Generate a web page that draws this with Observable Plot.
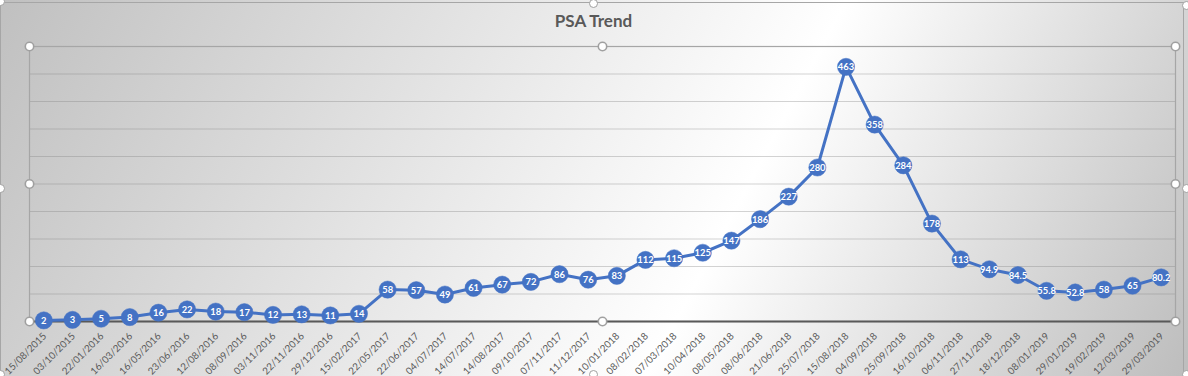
<!DOCTYPE html>
<html>
<head>
<meta charset="utf-8">
<script src="https://cdn.jsdelivr.net/npm/d3@7"></script>
<script src="https://cdn.jsdelivr.net/npm/@observablehq/plot@0.6"></script>
<style>
  html, body { margin: 0; padding: 0; background: #ffffff; }
  #wrap { position: relative; width: 1188px; height: 376px; overflow: hidden; background: linear-gradient(118deg, #c0c0c0 0%, #ffffff 61%, #bdbdbd 100%); }
  #wrap svg { display: block; }
  .outer { position: absolute; left: 0; top: 2px; width: 1184px; height: 380px; border: 1px solid #a6a6a6; box-sizing: border-box; pointer-events: none; }
  .h { position: absolute; width: 9px; height: 9px; border-radius: 50%; background: #fff; border: 1.5px solid #a0a0a0; box-sizing: border-box; }
</style>
</head>
<body>
<div id="wrap"></div>
<script>
const title = "PSA Trend";
const dates = ["15/08/2015","03/10/2015","22/01/2016","16/03/2016","16/05/2016","23/06/2016","12/08/2016","08/09/2016","03/11/2016","22/11/2016","29/12/2016","15/02/2017","22/05/2017","22/06/2017","04/07/2017","14/07/2017","14/08/2017","09/10/2017","07/11/2017","11/12/2017","10/01/2018","08/02/2018","07/03/2018","10/04/2018","08/05/2018","08/06/2018","21/06/2018","25/07/2018","15/08/2018","04/09/2018","25/09/2018","16/10/2018","06/11/2018","27/11/2018","18/12/2018","08/01/2019","29/01/2019","19/02/2019","12/03/2019","29/03/2019"];
const psa = [2,3,5,8,16,22,18,17,12,13,11,14,58,57,49,61,67,72,86,76,83,112,115,125,147,186,227,280,463,358,284,178,113,94.9,84.5,55.8,52.8,58,65,80.2];
const yDomain = [0, 500];
const gridStep = 50;

const data = dates.map((d, i) => ({date: d, value: psa[i]}));
const blue = "#4472C4";
const font = "Lato, 'Open Sans', sans-serif";

const handle = (anchor) => Plot.dot([0], {frameAnchor: anchor, r: 4.2, fill: "#ffffff", stroke: "#a0a0a0", strokeWidth: 1.6});

const chart = Plot.plot({
  width: 1188,
  height: 376,
  marginTop: 46,
  marginRight: 13,
  marginBottom: 55,
  marginLeft: 29,
  style: {fontFamily: font, background: "transparent", overflow: "visible"},
  x: {type: "band", domain: dates, padding: 0, round: false, label: null},
  y: {domain: yDomain, axis: null, label: null},
  marks: [
    Plot.gridY({interval: gridStep, stroke: "#808080", strokeOpacity: 0.35, strokeWidth: 1}),
    Plot.frame({stroke: "#a6a6a6", strokeWidth: 1.2}),
    Plot.ruleY([yDomain[0]], {stroke: "#595959", strokeWidth: 1.8}),
    Plot.axisX({tickRotate: -45, tickSize: 0, tickPadding: 13, fontSize: 9.8, fill: "#595959", label: null, dx: 1}),
    Plot.line(data, {x: "date", y: "value", stroke: blue, strokeWidth: 3, curve: "linear"}),
    Plot.dot(data, {x: "date", y: "value", r: 8.6, fill: blue, stroke: blue, strokeWidth: 0.5}),
    Plot.text(data, {x: "date", y: "value", text: d => String(d.value), fill: "#ffffff", fontSize: 9.4, fontWeight: "bold", lineAnchor: "middle", dy: 0.5}),
    Plot.text([title], {frameAnchor: "top", dx: -9, dy: -25, text: d => d, fontSize: 17, fontWeight: "bold", fill: "#595959", lineAnchor: "middle"}),
    handle("top-left"), handle("top"), handle("top-right"),
    handle("left"), handle("right"),
    handle("bottom-left"), handle("bottom"), handle("bottom-right")
  ]
});

const wrap = document.getElementById("wrap");
wrap.appendChild(chart);
const outer = document.createElement("div");
outer.className = "outer";
wrap.appendChild(outer);
[[593, 3], [1186, 5], [1186, 188], [0, 188], [593, 374], [1186, 374], [0, 374], [0, 1]].forEach(([x, y]) => {
  const h = document.createElement("div");
  h.className = "h";
  h.style.left = (x - 4.5) + "px";
  h.style.top = (y - 4.5) + "px";
  wrap.appendChild(h);
});
</script>
</body>
</html>
